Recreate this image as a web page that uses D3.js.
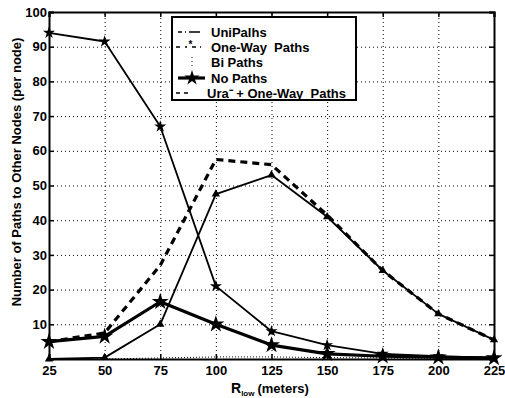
<!DOCTYPE html>
<html>
<head>
<meta charset="utf-8">
<script src="https://cdn.jsdelivr.net/npm/d3@7"></script>
<style>
  body { margin: 0; background: #fff; }
  svg { display: block; }
  text { font-family: "Liberation Sans", Arial, sans-serif; font-weight: bold; fill: #000; }
</style>
</head>
<body>
<svg id="chart" width="505" height="398"></svg>
<script>
// data
const rLow = [25, 50, 75, 100, 125, 150, 175, 200, 225];
const noPaths = [94, 91.5, 67, 21, 8, 4, 1.5, 0.8, 0.3];
const uniPaths = [0, 0.4, 10, 47.5, 53, 41, 25.5, 13, 5.5];
const uraOneWay = [5, 7.5, 27, 57.5, 56, 41.5, 25.5, 13, 5.5];
const oneWay = [5, 6.5, 16.5, 10, 4, 1.5, 0.8, 0.5, 0.3];
const biPaths = [0, 0, 0.3, 0.6, 0.6, 0.4, 0.3, 0.2, 0.1];
const xTicks = [25, 50, 75, 100, 125, 150, 175, 200, 225];
const yTicks = [10, 20, 30, 40, 50, 60, 70, 80, 90, 100];

const margin = { top: 12, right: 11, bottom: 39, left: 49 };
const width = 505 - margin.left - margin.right;
const height = 398 - margin.top - margin.bottom;

const svg = d3.select('#chart');
const g = svg.append('g').attr('transform', `translate(${margin.left},${margin.top})`);

const x = d3.scaleLinear().domain([25, 225]).range([0, width]);
const y = d3.scaleLinear().domain([0, 100]).range([height, 0]);

// dotted grid
g.append('g')
  .attr('transform', `translate(0,${height})`)
  .call(d3.axisBottom(x).tickValues(xTicks).tickSize(-height).tickFormat(''))
  .call(s => s.select('.domain').remove())
  .call(s => s.selectAll('line').attr('stroke', '#000').attr('stroke-dasharray', '1,3').attr('stroke-width', 1));
g.append('g')
  .call(d3.axisLeft(y).tickValues(yTicks).tickSize(-width).tickFormat(''))
  .call(s => s.select('.domain').remove())
  .call(s => s.selectAll('line').attr('stroke', '#000').attr('stroke-dasharray', '1,3').attr('stroke-width', 1));

// axes with inward ticks
const xAxis = g.append('g')
  .attr('transform', `translate(0,${height})`)
  .call(d3.axisBottom(x).tickValues(xTicks).tickSize(-5).tickPadding(7));
const yAxis = g.append('g')
  .call(d3.axisLeft(y).tickValues(yTicks).tickSize(-5).tickPadding(2));
g.append('g')
  .call(d3.axisTop(x).tickValues(xTicks).tickSize(-5).tickFormat(''));
g.append('g')
  .attr('transform', `translate(${width},0)`)
  .call(d3.axisRight(y).tickValues(yTicks).tickSize(-5).tickFormat(''));

g.selectAll('.domain').attr('stroke', '#000').attr('stroke-width', 2);
g.selectAll('.tick line').filter(function() { return !this.getAttribute('stroke-dasharray'); })
  .attr('stroke', '#000').attr('stroke-width', 1.5);
xAxis.selectAll('text').style('font-size', '13px').attr('font-family', null);
yAxis.selectAll('text').style('font-size', '13px').attr('font-family', null);

// series
const line = d3.line().x((d, i) => x(rLow[i])).y(d => y(d));

function drawSeries(values, stroke, dash, marker, markerSize) {
  g.append('path')
    .datum(values)
    .attr('fill', 'none')
    .attr('stroke', '#000')
    .attr('stroke-width', stroke)
    .attr('stroke-dasharray', dash)
    .attr('stroke-linejoin', 'round')
    .attr('d', line);
  if (marker) {
    g.selectAll(null)
      .data(values)
      .enter()
      .append('path')
      .attr('transform', (d, i) => `translate(${x(rLow[i])},${y(d)})`)
      .attr('d', d3.symbol().type(marker).size(markerSize))
      .attr('fill', '#000');
  }
}

drawSeries(biPaths, 1, '1,2', null);
drawSeries(uraOneWay, 3.2, '7,5', null);
drawSeries(uniPaths, 1.8, null, d3.symbolTriangle, 30);
drawSeries(noPaths, 1.8, null, d3.symbolStar, 45);
drawSeries(oneWay, 3.2, null, d3.symbolStar, 90);

// legend
const legend = svg.append('g');
legend.append('rect')
  .attr('x', 172).attr('y', 17).attr('width', 184).attr('height', 83)
  .attr('fill', '#fff').attr('stroke', '#000').attr('stroke-width', 2);

const legendItems = [
  { label: 'UniPalhs', dy: 32 },
  { label: 'One-Way\u00a0 Paths', dy: 47 },
  { label: 'Bi Paths', dy: 62 },
  { label: 'No Paths', dy: 78 },
  { label: 'Ura\u207b + One-Way\u00a0 Paths', dy: 93 }
];
legend.selectAll('text.item')
  .data(legendItems)
  .enter()
  .append('text')
  .attr('class', 'item')
  .attr('x', (d, i) => i === 4 ? 207 : 211)
  .attr('y', d => d.dy + 4.5)
  .style('font-size', '13px')
  .text(d => d.label);

// legend samples
legend.append('line').attr('x1', 178).attr('x2', 200).attr('y1', 32).attr('y2', 32)
  .attr('stroke', '#000').attr('stroke-width', 1.5).attr('stroke-dasharray', '4,3,1,3,12');
legend.append('line').attr('x1', 176).attr('x2', 201).attr('y1', 47).attr('y2', 47)
  .attr('stroke', '#000').attr('stroke-width', 1.5).attr('stroke-dasharray', '4,5,2,5,4');
legend.append('text').attr('x', 188.5).attr('y', 48).style('font-size', '10px').text('*');
legend.append('line').attr('x1', 192).attr('x2', 192).attr('y1', 57).attr('y2', 66)
  .attr('stroke', '#000').attr('stroke-width', 1).attr('stroke-dasharray', '1,3');
legend.append('line').attr('x1', 178).attr('x2', 205).attr('y1', 78).attr('y2', 78)
  .attr('stroke', '#000').attr('stroke-width', 3.2);
legend.append('path').attr('transform', 'translate(192,78)')
  .attr('d', d3.symbol().type(d3.symbolStar).size(70)).attr('fill', '#000');
legend.append('line').attr('x1', 176).attr('x2', 189).attr('y1', 93).attr('y2', 93)
  .attr('stroke', '#000').attr('stroke-width', 1.5).attr('stroke-dasharray', '4,4');

// axis titles
const xt = svg.append('text').attr('x', 231).attr('y', 393).style('font-size', '14px');
xt.append('tspan').text('R');
xt.append('tspan').attr('dy', 3).style('font-size', '8px').text('low');
xt.append('tspan').attr('dy', -3).attr('dx', 3).style('font-size', '13px').text('(meters)');

svg.append('text')
  .attr('transform', 'translate(21,172) rotate(-90)')
  .attr('text-anchor', 'middle')
  .style('font-size', '13px')
  .text('Number of Paths to Other Nodes (per node)');
</script>
</body>
</html>
